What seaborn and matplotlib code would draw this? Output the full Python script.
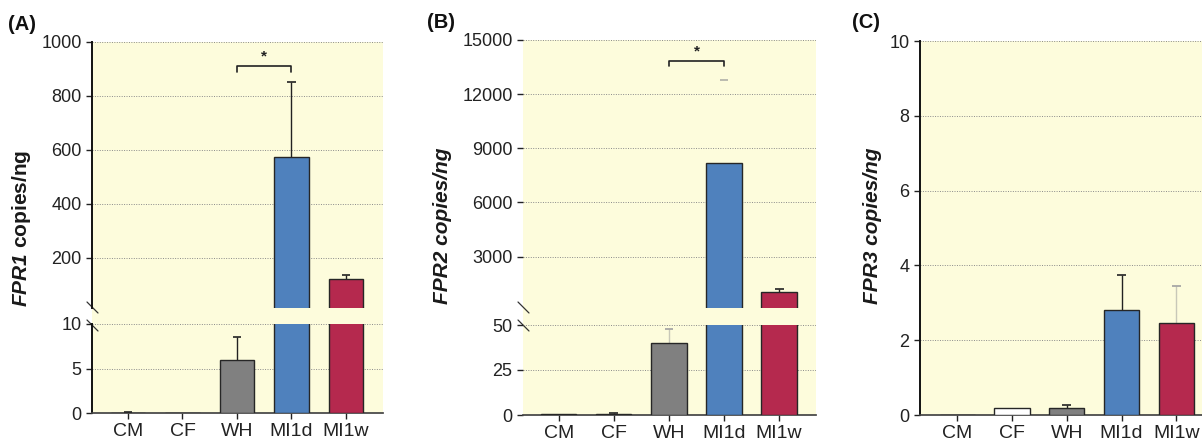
""" FPR1/FPR2/FPR3 copies per ng, three bar panels (two with broken y axes) """
import matplotlib
matplotlib.use("Agg")
import matplotlib.pyplot as plt
import seaborn as sns
import pandas as pd

# data
groups = ["CM", "CF", "WH", "MI1d", "MI1w"]
fpr1_mean = [0.0, 0.0, 6.0, 572.0, 120.0]
fpr1_err = [0.1, 0.0, 2.5, 278.0, 17.0]
fpr2_mean = [0.4, 0.6, 40.0, 8200.0, 1060.0]
fpr2_err = [0.0, 0.6, 8.0, 4580.0, 160.0]
fpr3_mean = [0.0, 0.2, 0.2, 2.8, 2.45]
fpr3_err = [0.0, 0.0, 0.08, 0.95, 1.0]

W, H = 1202, 443
BG = "#fdfcdc"
palette = {"CM": "#ffffff", "CF": "#ffffff", "WH": "#808080", "MI1d": "#4f81bd", "MI1w": "#b5294e"}

sns.set_theme(style="ticks")
plt.rcParams["font.family"] = ["Liberation Sans", "DejaVu Sans"]
plt.rcParams["mathtext.fontset"] = "custom"
plt.rcParams["mathtext.bfit"] = "Liberation Sans:italic:bold"
plt.rcParams["mathtext.it"] = "Liberation Sans:italic"
plt.rcParams["mathtext.bf"] = "Liberation Sans:bold"


def rect(l, r, t, b):
    return [l / W, 1 - b / H, (r - l) / W, (b - t) / H]


def background(fig, box):
    bg = fig.add_axes(box, zorder=0)
    bg.set_facecolor(BG)
    bg.set_xticks([])
    bg.set_yticks([])
    for s in bg.spines.values():
        s.set_visible(False)
    return bg


def draw_bars(ax, means, errs, err_colors, xlim):
    df = pd.DataFrame({"group": groups, "value": means})
    sns.barplot(data=df, x="group", y="value", hue="group", palette=palette, legend=False,
                errorbar=None, width=0.64, saturation=1, edgecolor="#262626", linewidth=1.0,
                ax=ax, zorder=3)
    # upper-only error bars, drawn as plain lines so they clip at the axes edge
    for i, (m, e) in enumerate(zip(means, errs)):
        if e <= 0:
            continue
        line_c, cap_c = err_colors[i]
        ax.vlines(i, m, m + e, color=line_c, linewidth=1.0, zorder=2.5)
        ax.hlines(m + e, i - 0.08, i + 0.08, color=cap_c, linewidth=1.2, zorder=4)
    ax.set_xlim(*xlim)
    ax.set_facecolor("none")
    ax.set_xlabel("")
    ax.set_ylabel("")
    ax.grid(axis="y", color="#8a8a8a", linestyle=(0, (1, 1.5)), linewidth=0.7, zorder=1)
    ax.tick_params(axis="y", labelsize=13, colors="#222222", length=4, width=1.0, direction="out")
    ax.tick_params(axis="x", labelsize=14, colors="#222222", length=4, width=1.0, direction="out")
    for s in ["top", "right"]:
        ax.spines[s].set_visible(False)


def style_split(ax_up, ax_lo, show_left):
    ax_up.spines["bottom"].set_visible(False)
    ax_up.tick_params(axis="x", bottom=False, labelbottom=False)
    ax_lo.spines["bottom"].set_color("#444444")
    for ax in (ax_up, ax_lo):
        if show_left:
            ax.spines["left"].set_color("#111111")
            ax.spines["left"].set_linewidth(1.4)
        else:
            ax.spines["left"].set_visible(False)


def break_marks(fig, x, y1, y2):
    for y in (y1, y2):
        fig.add_artist(plt.Line2D([(x - 5) / W, (x + 6) / W], [1 - (y - 6) / H, 1 - (y + 5) / H],
                                  color="#333333", linewidth=0.9))


def bracket(ax, x0, x1, y, leg):
    ax.plot([x0, x0, x1, x1], [y - leg, y, y, y - leg], color="#222222", linewidth=1.2,
            clip_on=False, zorder=5)
    ax.text((x0 + x1) / 2, y + leg * 0.4, "*", ha="center", va="bottom", fontsize=11,
            fontweight="bold", color="#222222")


fig = plt.figure(figsize=(W / 100, H / 100), dpi=100)

dark = ("#222222", "#222222")
light = ("#c8c8b8", "#a0a0a0")
faint = (BG, "#b0b0a8")

# (A) FPR1
background(fig, rect(92, 383, 42, 413))
a_up = fig.add_axes(rect(92, 383, 42, 308), zorder=2)
a_lo = fig.add_axes(rect(92, 383, 324, 413), zorder=2)
a_cols = [dark, dark, dark, dark, dark]
draw_bars(a_up, fpr1_mean, fpr1_err, a_cols, (-0.66, 4.68))
draw_bars(a_lo, fpr1_mean, fpr1_err, a_cols, (-0.66, 4.68))
a_up.set_ylim(14, 1000)
a_up.set_yticks([200, 400, 600, 800, 1000])
a_lo.set_ylim(0, 10)
a_lo.set_yticks([0, 5, 10])
style_split(a_up, a_lo, True)
break_marks(fig, 92, 308, 326)
bracket(a_up, 2, 3, 912, 22)
fig.text(22 / W, 1 - 228 / H, r"$\mathbfit{FPR1}$ copies/ng", rotation=90, ha="center", va="center",
         fontsize=15, fontweight="bold", color="#1a1a1a")
fig.text(8 / W, 1 - 24 / H, "(A)", ha="left", va="center", fontsize=14.5, fontweight="bold", color="#111111")

# (B) FPR2
background(fig, rect(523, 816, 40, 415))
b_up = fig.add_axes(rect(523, 816, 40, 308), zorder=2)
b_lo = fig.add_axes(rect(523, 816, 325, 415), zorder=2)
b_cols = [dark, dark, light, faint, dark]
draw_bars(b_up, fpr2_mean, fpr2_err, b_cols, (-0.65, 4.67))
draw_bars(b_lo, fpr2_mean, fpr2_err, b_cols, (-0.65, 4.67))
b_up.set_ylim(150, 15000)
b_up.set_yticks([3000, 6000, 9000, 12000, 15000])
b_lo.set_ylim(0, 50)
b_lo.set_yticks([0, 25, 50])
style_split(b_up, b_lo, False)
break_marks(fig, 523, 308, 326)
bracket(b_up, 2, 3, 13850, 280)
fig.text(443 / W, 1 - 226 / H, "FPR2 copies/ng", rotation=90, ha="center", va="center",
         fontsize=15, fontweight="bold", fontstyle="italic", color="#1a1a1a")
fig.text(427 / W, 1 - 23 / H, "(B)", ha="left", va="center", fontsize=14.5, fontweight="bold", color="#111111")

# (C) FPR3
background(fig, rect(920, 1202, 41, 415))
c_ax = fig.add_axes(rect(920, 1202, 41, 415), zorder=2)
c_cols = [dark, dark, dark, dark, light]
draw_bars(c_ax, fpr3_mean, fpr3_err, c_cols, (-0.68, 4.47))
c_ax.set_ylim(0, 10)
c_ax.set_yticks([0, 2, 4, 6, 8, 10])
c_ax.spines["left"].set_color("#111111")
c_ax.spines["left"].set_linewidth(1.4)
c_ax.spines["bottom"].set_color("#444444")
fig.text(872 / W, 1 - 226 / H, "FPR3 copies/ng", rotation=90, ha="center", va="center",
         fontsize=15, fontweight="bold", fontstyle="italic", color="#1a1a1a")
fig.text(852 / W, 1 - 22 / H, "(C)", ha="left", va="center", fontsize=14.5, fontweight="bold", color="#111111")

fig.savefig("out.png", dpi=100, facecolor="white")
